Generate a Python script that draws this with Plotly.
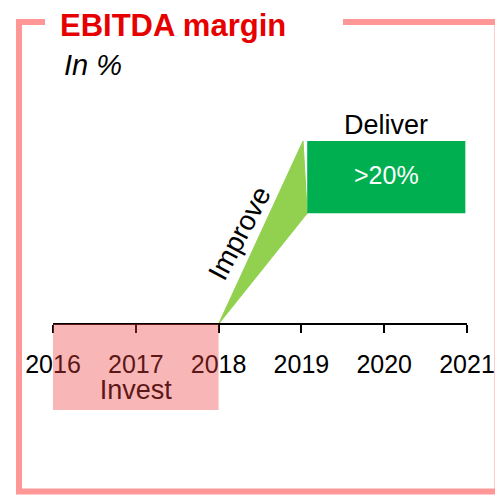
import plotly.graph_objects as go

# ---- data ----
years = [2016, 2017, 2018, 2019, 2020, 2021]
year_labels = ["2016", "2017", "2018", "2019", "2020", "2021"]

invest_x = [2016, 2018]
invest_y = [-9.4, 0]

improve_x = [2018, 2019.02, 2019.07]
improve_y = [0, 20, 12.1]

deliver_x = [2019.07, 2020.98]
deliver_y = [12.1, 20]
deliver_label = ">20%"

W, H = 503, 495
OFF = 8  # page body margin offset
FONT = "Liberation Sans, Arial, sans-serif"
PPU = 9.15  # pixels per y unit

def px(x):
    return (x - OFF) / W

def py(y):
    return 1 - (y - OFF) / H

fig = go.Figure()

# Improve wedge
fig.add_trace(go.Scatter(
    x=improve_x + [improve_x[0]], y=improve_y + [improve_y[0]],
    fill="toself", fillcolor="#92D050", mode="lines",
    line=dict(color="#92D050", width=1), hoverinfo="skip", showlegend=False))

# Deliver box
fig.add_trace(go.Scatter(
    x=[deliver_x[0], deliver_x[1], deliver_x[1], deliver_x[0], deliver_x[0]],
    y=[deliver_y[0], deliver_y[0], deliver_y[1], deliver_y[1], deliver_y[0]],
    fill="toself", fillcolor="#00B050", mode="lines",
    line=dict(color="#00B050", width=0), hoverinfo="skip", showlegend=False))

# Invest label (under the translucent box)
fig.add_trace(go.Scatter(
    x=[(invest_x[0] + invest_x[1]) / 2], y=[invest_y[0] + 1.9],
    mode="text", text=["Invest"], textposition="middle center",
    textfont=dict(size=27, color="black", family=FONT),
    hoverinfo="skip", showlegend=False, cliponaxis=False))

# Invest box (above, translucent)
fig.add_shape(type="rect", xref="x", yref="y",
              x0=invest_x[0], x1=invest_x[1], y0=invest_y[0], y1=invest_y[1],
              fillcolor="rgb(237,62,62)", opacity=0.38, line=dict(width=0),
              layer="above")

# >20% text
fig.add_annotation(x=(deliver_x[0] + deliver_x[1]) / 2,
                   y=(deliver_y[0] + deliver_y[1]) / 2 + 0.2,
                   text=deliver_label, showarrow=False,
                   font=dict(size=25, color="white", family=FONT))
# Deliver text
fig.add_annotation(x=(deliver_x[0] + deliver_x[1]) / 2, y=deliver_y[1] + 1.75,
                   text="Deliver", showarrow=False,
                   font=dict(size=27, color="black", family=FONT))
# Improve text
fig.add_annotation(x=2018.25, y=9.9, text="Improve", showarrow=False,
                   textangle=-62,
                   font=dict(size=28, color="black", family=FONT))

# Title + subtitle
fig.add_annotation(xref="paper", yref="paper", x=px(58), y=py(25),
                   xanchor="left", yanchor="middle",
                   text="<b>EBITDA margin</b>", showarrow=False,
                   font=dict(size=31, color="#E60000", family=FONT))
fig.add_annotation(xref="paper", yref="paper", x=px(62), y=py(65),
                   xanchor="left", yanchor="middle",
                   text="<i>In %</i>", showarrow=False,
                   font=dict(size=29, color="black", family=FONT))

# Frame
frame_col = "#FF9797"
lw = 6
for (x0, y0, x1, y1) in [
    (19, 22, 45, 22),      # top-left segment
    (343, 22, 497.5, 22),  # top-right segment
    (19, 19, 19, 494),     # left
    (497.5, 19, 497.5, 494),  # right
    (16, 491.5, 500, 491.5),  # bottom
]:
    fig.add_shape(type="line", xref="paper", yref="paper",
                  x0=px(x0), y0=py(y0), x1=px(x1), y1=py(y1),
                  line=dict(color=frame_col, width=lw), layer="below")

axis_px = 324 - OFF
fig.update_layout(
    width=W, height=H, autosize=False,
    margin=dict(l=0, r=0, t=0, b=0, pad=0, autoexpand=False),
    paper_bgcolor="white", plot_bgcolor="rgba(0,0,0,0)",
    showlegend=False,
    xaxis=dict(domain=[(53 - OFF) / W, (467 - OFF) / W], range=[2016, 2021],
               anchor="free", position=1 - axis_px / H, automargin=False,
               tickmode="array", tickvals=years, ticktext=year_labels,
               showline=True, linecolor="black", linewidth=2,
               ticks="outside", ticklen=8, tickwidth=2, tickcolor="black",
               ticklabelstandoff=10,
               tickfont=dict(size=25, color="black", family=FONT),
               showgrid=False, zeroline=False, fixedrange=True),
    yaxis=dict(domain=[0, 1], range=[-(H - axis_px) / PPU, axis_px / PPU],
               automargin=False,
               visible=False, showgrid=False, zeroline=False, fixedrange=True),
)

fig.write_html("out.html")
